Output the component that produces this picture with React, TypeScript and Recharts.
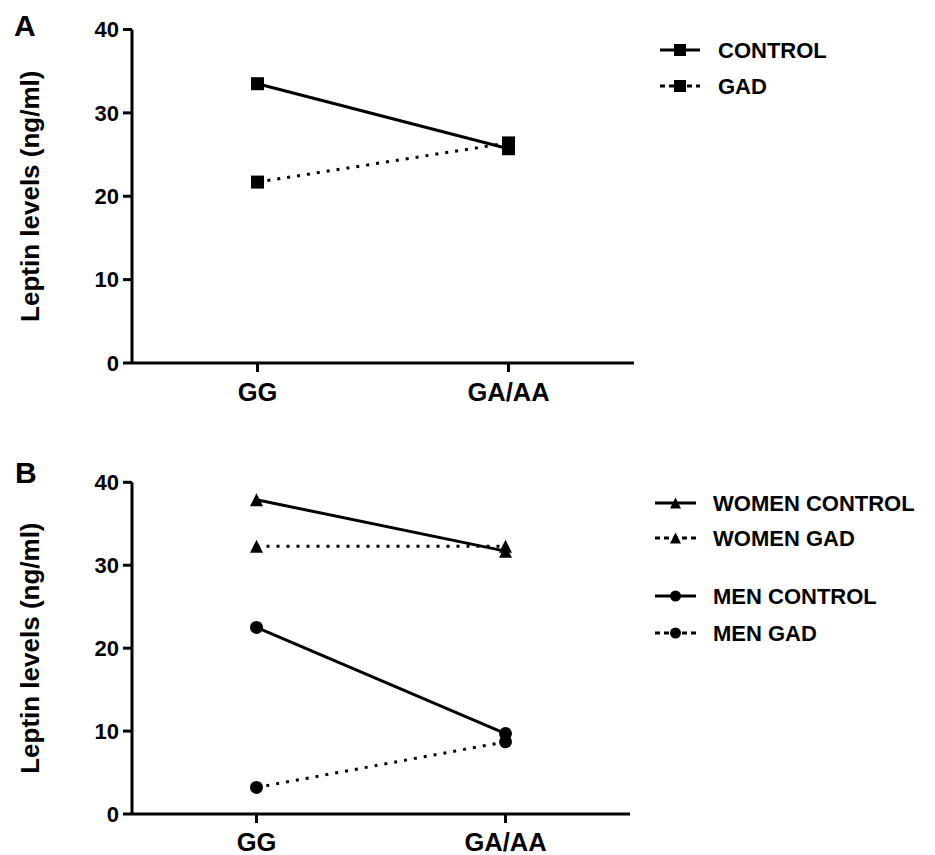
import React from 'react';
import { LineChart, Line, XAxis, YAxis, Label } from 'recharts';

const categories = ['GG', 'GA/AA'];
const controlA = [33.5, 25.7];
const gadA = [21.7, 26.4];
const womenControl = [37.9, 31.7];
const womenGad = [32.3, 32.3];
const menControl = [22.5, 9.7];
const menGad = [3.2, 8.7];
const yTicks = [0, 10, 20, 30, 40];

const dataA = categories.map((c, i) => ({ cat: c, control: controlA[i], gad: gadA[i] }));
const dataB = categories.map((c, i) => ({
  cat: c,
  womenControl: womenControl[i],
  womenGad: womenGad[i],
  menControl: menControl[i],
  menGad: menGad[i],
}));

const FONT = '"Liberation Sans", Arial, Helvetica, sans-serif';
const DOTTED = '3 7';

type Shape = 'square' | 'triangle' | 'circle';

const marker = (shape: Shape, cx: number, cy: number, s: number, key?: string) => {
  if (shape === 'square') {
    return <rect key={key} x={cx - s / 2} y={cy - s / 2} width={s} height={s} fill="#000" />;
  }
  if (shape === 'circle') {
    return <circle key={key} cx={cx} cy={cy} r={s / 2} fill="#000" />;
  }
  const h = s;
  return (
    <path
      key={key}
      d={`M${cx},${cy - h / 2}L${cx + s / 2},${cy + h / 2}L${cx - s / 2},${cy + h / 2}Z`}
      fill="#000"
    />
  );
};

const dotFor = (shape: Shape, size: number, name: string) => (props: any) =>
  marker(shape, props.cx, props.cy, size, `${name}-${props.index}`);

const YLabel = (props: any) => {
  const vb = props.viewBox || {};
  const cx = (vb.x ?? 0) + 30;
  const cy = (vb.y ?? 0) + (vb.height ?? 0) / 2;
  return (
    <text
      x={cx}
      y={cy}
      transform={`rotate(-90 ${cx} ${cy})`}
      textAnchor="middle"
      dominantBaseline="central"
      fontFamily={FONT}
      fontWeight="bold"
      fontSize={26}
      fill="#000"
    >
      Leptin levels (ng/ml)
    </text>
  );
};

type LegendItem = { label: string; shape: Shape; dashed: boolean; y: number; size: number };

const legendA: LegendItem[] = [
  { label: 'CONTROL', shape: 'square', dashed: false, y: 20, size: 12 },
  { label: 'GAD', shape: 'square', dashed: true, y: 56, size: 12 },
];
const legendB: LegendItem[] = [
  { label: 'WOMEN CONTROL', shape: 'triangle', dashed: false, y: 23, size: 11 },
  { label: 'WOMEN GAD', shape: 'triangle', dashed: true, y: 58, size: 11 },
  { label: 'MEN CONTROL', shape: 'circle', dashed: false, y: 116, size: 11 },
  { label: 'MEN GAD', shape: 'circle', dashed: true, y: 153, size: 11 },
];

const LegendBox = ({
  items,
  x0,
  x1,
  tx,
  h,
  left,
  top,
}: {
  items: LegendItem[];
  x0: number;
  x1: number;
  tx: number;
  h: number;
  left: number;
  top: number;
}) => (
  <svg width={280} height={h} style={{ position: 'absolute', left, top, display: 'block' }}>
    {items.map((it) => (
      <g key={it.label}>
        <line
          x1={x0}
          x2={x1}
          y1={it.y}
          y2={it.y}
          stroke="#000"
          strokeWidth={3}
          strokeDasharray={it.dashed ? '5 4' : undefined}
        />
        {marker(it.shape, (x0 + x1) / 2, it.y, it.size)}
        <text
          x={tx}
          y={it.y}
          dominantBaseline="central"
          fontFamily={FONT}
          fontWeight="bold"
          fontSize={22}
          fill="#000"
        >
          {it.label}
        </text>
      </g>
    ))}
  </svg>
);

const axisLine = { stroke: '#000', strokeWidth: 3 };
const yTick = { fill: '#000', fontSize: 22, fontWeight: 'bold', fontFamily: FONT };
const xTick = { fill: '#000', fontSize: 25.5, fontWeight: 'bold', fontFamily: FONT };

export default function App() {
  return (
    <div style={{ position: 'absolute', left: 0, top: 0, width: 935, height: 855, background: '#fff' }}>
      <div style={{ position: 'absolute', left: 0, top: 0 }}>
        <LineChart width={935} height={420} data={dataA} margin={{ top: 29.5, right: 301, bottom: 17, left: 0 }}>
          <XAxis
            dataKey="cat"
            scale="band"
            height={40}
            axisLine={axisLine}
            tickLine={axisLine}
            tickSize={9}
            tickMargin={11}
            tick={xTick}
            interval={0}
          />
          <YAxis
            width={132}
            domain={[0, 40]}
            ticks={yTicks}
            interval={0}
            axisLine={axisLine}
            tickLine={axisLine}
            tickSize={9}
            tickMargin={4}
            tick={yTick}
          >
            <Label content={YLabel} />
          </YAxis>
          <Line
            dataKey="control"
            name="CONTROL"
            stroke="#000"
            strokeWidth={3}
            dot={dotFor('square', 13, 'ca')}
            isAnimationActive={false}
          />
          <Line
            dataKey="gad"
            name="GAD"
            stroke="#000"
            strokeWidth={3}
            strokeDasharray={DOTTED}
            dot={dotFor('square', 13, 'ga')}
            isAnimationActive={false}
          />
        </LineChart>
      </div>
      <div style={{ position: 'absolute', left: 0, top: 440 }}>
        <LineChart width={935} height={415} data={dataB} margin={{ top: 42.3, right: 305, bottom: 1, left: 0 }}>
          <XAxis
            dataKey="cat"
            scale="band"
            height={40}
            axisLine={axisLine}
            tickLine={axisLine}
            tickSize={9}
            tickMargin={10}
            tick={xTick}
            interval={0}
          />
          <YAxis
            width={132}
            domain={[0, 40]}
            ticks={yTicks}
            interval={0}
            axisLine={axisLine}
            tickLine={axisLine}
            tickSize={9}
            tickMargin={4}
            tick={yTick}
          >
            <Label content={YLabel} />
          </YAxis>
          <Line
            dataKey="womenControl"
            name="WOMEN CONTROL"
            stroke="#000"
            strokeWidth={3}
            dot={dotFor('triangle', 13, 'wc')}
            isAnimationActive={false}
          />
          <Line
            dataKey="womenGad"
            name="WOMEN GAD"
            stroke="#000"
            strokeWidth={3}
            strokeDasharray={DOTTED}
            dot={dotFor('triangle', 13, 'wg')}
            isAnimationActive={false}
          />
          <Line
            dataKey="menControl"
            name="MEN CONTROL"
            stroke="#000"
            strokeWidth={3}
            dot={dotFor('circle', 13, 'mc')}
            isAnimationActive={false}
          />
          <Line
            dataKey="menGad"
            name="MEN GAD"
            stroke="#000"
            strokeWidth={3}
            strokeDasharray={DOTTED}
            dot={dotFor('circle', 13, 'mg')}
            isAnimationActive={false}
          />
        </LineChart>
      </div>
      <LegendBox items={legendA} x0={5} x1={45} tx={63} h={80} left={655} top={30} />
      <LegendBox items={legendB} x0={5} x1={46} tx={63} h={175} left={650} top={480} />
      <svg width={60} height={855} style={{ position: 'absolute', left: 0, top: 0, pointerEvents: 'none' }}>
        <text x={14} y={36} fontFamily={FONT} fontWeight="bold" fontSize={30} fill="#000">A</text>
        <text x={15} y={483} fontFamily={FONT} fontWeight="bold" fontSize={30} fill="#000">B</text>
      </svg>
    </div>
  );
}
